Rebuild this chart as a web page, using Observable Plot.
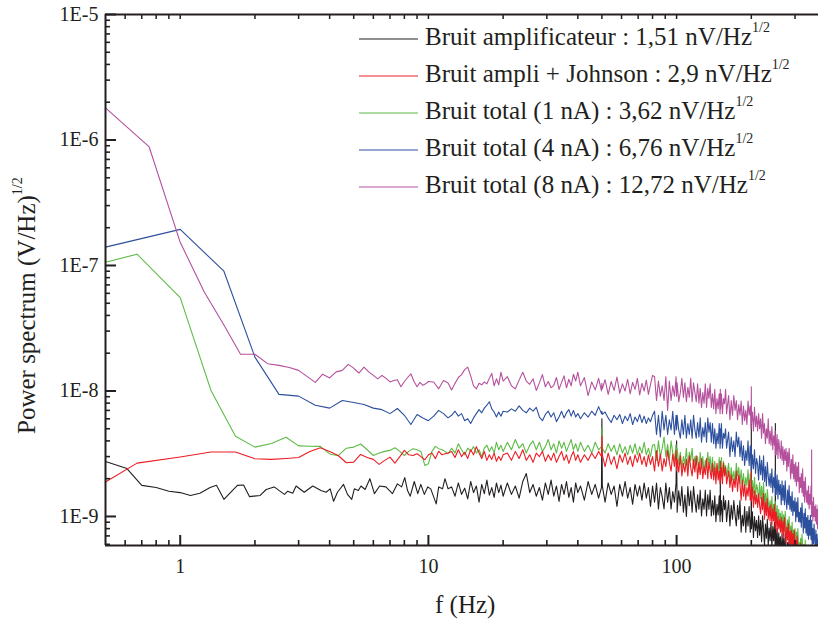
<!DOCTYPE html>
<html>
<head>
<meta charset="utf-8">
<script src="https://cdn.jsdelivr.net/npm/d3@7"></script>
<script src="https://cdn.jsdelivr.net/npm/@observablehq/plot@0.6"></script>
<style>
  html, body { margin: 0; padding: 0; background: #fff; }
  svg { display: block; }
</style>
</head>
<body>
<script>
// ---------- Series meta ----------
const seriesKeys   = ["black", "red", "green", "blue", "magenta"];
const seriesLabels = ["Bruit amplificateur : 1,51 nV/Hz",
                      "Bruit ampli + Johnson : 2,9 nV/Hz",
                      "Bruit total (1 nA) : 3,62 nV/Hz",
                      "Bruit total (4 nA) : 6,76 nV/Hz",
                      "Bruit total (8 nA) : 12,72 nV/Hz"];
const seriesColors = ["#231f20", "#ed1c24", "#5dbb46", "#2c4f9e", "#b5509c"];

// ---------- Low-frequency data (f in Hz, values in nV/Hz^1/2) ----------
const blackF = [0.5,0.61,0.7,0.8,0.9,1.0,1.1,1.2,1.32,1.4,1.5,1.7,1.8,1.9,2.1,2.22,2.39,2.63,2.71,2.84,2.93,3.16,3.42,3.69,3.87,4.02,4.15,4.3,4.55,4.72,4.91,5.03,5.22,5.35,5.56,5.81,6.06,6.36,6.74,7.16,7.5,7.8,8.03,8.24,8.45,8.77,9.06,9.32,9.63,9.93,10.22,10.75,11.0,11.4,11.66,12.0];
const blackV = [2.74,2.41,1.77,1.70,1.59,1.55,1.47,1.53,1.70,1.77,1.37,1.77,1.78,1.44,1.47,1.64,1.72,1.50,1.59,1.53,1.75,1.56,1.75,1.61,1.56,1.66,1.32,1.56,1.80,1.50,1.37,1.66,1.61,1.75,1.64,2.00,1.52,1.75,1.72,1.52,1.82,1.72,2.04,1.61,1.45,1.90,1.52,1.80,1.50,1.72,1.66,1.26,1.72,1.66,2.00,1.66];

const redF = [0.5,0.67,1.0,1.33,1.67,2.0,2.33,2.67,3.0,3.33,3.67,4.0,4.33,4.67,5.0,5.33,5.67,6.0,6.33,6.67,7.0,7.33,7.67,8.0,8.33,8.67,9.0,9.33,9.67,10.0,10.33,10.67,11.0,11.33,11.67,12.0];
const redV = [1.88,2.66,2.98,3.26,3.26,2.88,2.85,2.9,2.95,3.3,3.53,3.3,3.06,2.68,2.71,3.12,2.95,2.85,2.6,2.8,2.97,2.66,3.0,3.36,3.1,3.06,3.16,3.0,2.83,3.1,3.2,2.89,3.31,3.1,3.16,3.2];

const greenF = [0.5,0.67,1.0,1.33,1.67,2.0,2.33,2.67,3.0,3.33,3.67,4.0,4.33,4.67,5.0,5.33,5.67,6.0,6.33,6.67,7.0,7.33,7.67,8.0,8.33,8.67,9.0,9.33,9.67,10.0,10.33,10.67,11.0,11.33,11.67,12.0];
const greenV = [106,123,55.5,10.1,4.35,3.57,3.82,4.28,3.65,3.63,3.62,3.15,3.05,3.5,3.57,3.78,3.4,3.06,3.2,3.3,3.36,3.53,3.3,3.06,3.3,3.47,3.4,3.3,2.55,2.63,3.3,3.62,3.47,3.42,3.3,3.16];

const blueF = [0.5,1.0,1.5,2.0,2.5,3.0,3.5,4.0,4.5,5.0,5.5,6.0,6.5,7.0,7.5,8.0,8.5,9.0,9.5,10.0,10.5,11.0,11.5,12.0];
const blueV = [140,194,90,18.6,9.4,9.1,7.7,7.3,8.4,8.1,7.8,7.3,7.1,6.6,7.25,6.4,5.4,6.5,6.1,5.8,6.3,7.0,6.6,6.1];

const magentaF = [0.5,0.75,1.0,1.25,1.5,1.75,2.0,2.25,2.5,2.75,3.0,3.25,3.5,3.75,4.0,4.25,4.5,4.75,5.0,5.25,5.5,5.75,6.0,6.25,6.5,6.75,7.0,7.25,7.5,7.75,8.0,8.25,8.5,8.75,9.0,9.25,9.5,9.75,10.0,10.5,11.0,11.5,12.0];
const magentaV = [1800,880,153,61.5,33.5,19.6,19.6,16.5,16.0,15.4,14.6,13.0,11.7,13.6,12.7,14.2,14.6,16.3,15.2,13.9,15.5,14.2,13.3,12.5,13.3,12.6,11.8,12.1,12.3,10.8,11.9,12.8,13.7,11.9,10.8,11.7,11.1,11.4,11.9,11.8,10.4,12.1,11.6];

// ---------- Mid/high-frequency data: shared frequency grids (Hz) ----------
const fMid = [12.4,12.8,13.2,13.6,14,14.4,14.8,15.2,15.6,16,16.4,16.8,17.2,17.6,18,18.4,18.8,19.2,19.6,20,
  20.8,21.6,22.4,23.2,24,24.8,25.6,26.4,27.2,28,28.8,29.6,30.4,31.2,32,32.8,33.6,34.4,35.2,36,36.8,37.6,38.4,39.2,40,
  41,42.5,44,45.5,47,48.5,49.8,50,50.2,51.5,53,54.5,56,57.5,59,60.5,62,63.5,65,66.5,68,69.5,71,72.5,74,75.5,77,78.5,80];
const fD = [81.5,83,84.5,86,87.5,89,90.5,92,93.5,95,96.5,98,99.5,100,
  100.5,102,103.5,105,106.5,108,109.5,111,112.5,114,115.5,117,118.5,120,
  121.5,123,124.5,126,127.5,129,130.5,132,133.5,135,136.5,138,
  139.5,141,142.5,144,145.5,147,148.5,149.7,150,150.3,151.5,153,154.5,156,157.5,159];
const fE = [162,164,166,168,170,172,174,176,178,180,182,184,186,188,190,192,194,196,198,199.7,200,200.3,
  202,204,206,208,210,212,214,216,218,220,222,224,226,228,230,232,234,236,238,240,242,244,246,248,249.7,250,250.3,
  252,254,256,258,260,262,264,266,268,270,272,274,276,278,280,282,284,286,288,290,292,294,296,298,
  300,302,304,306,308,310,312,314,316,318,320,322,324,326,328,330,332,334,336,338,340,342,344,346,348,349.7,350,350.3,
  352,354,356,358,360,362,364,366,368,370,372,374];

// ---------- Values on those grids (nV/Hz^1/2) ----------
const blackMid = [1.72,1.45,1.85,1.5,1.68,1.38,1.9,1.55,1.75,1.3,1.8,1.52,1.95,1.48,1.7,1.42,1.85,1.55,1.78,1.45,
  1.85,1.5,1.75,1.4,1.9,2.2,1.55,1.8,1.45,1.7,1.35,1.85,1.5,1.95,1.45,1.75,1.32,1.8,1.5,1.9,1.42,1.7,1.3,1.85,1.55,
  1.75,1.35,1.9,1.5,1.8,1.4,1.7,6.0,1.75,1.3,1.85,1.5,1.75,1.2,1.8,1.45,1.9,1.4,1.7,1.25,1.8,1.45,1.75,1.35,1.85,1.4,1.7,1.2,1.75];
const blackD = [1.3,1.85,1.15,1.7,1.43,1.15,1.85,1.3,1.7,1.15,1.58,1.3,1.85,4.0,
  1.08,1.6,1.22,1.73,1.08,1.48,1.0,1.73,1.22,1.6,1.08,1.73,1.33,1.08,
  1.49,1.14,1.62,1.01,1.38,1.14,1.62,1.01,1.49,1.14,1.62,1.01,
  1.34,1.03,1.46,0.91,1.25,1.03,1.46,0.91,2.1,1.03,1.34,0.91,1.46,1.13,1.34,0.91];
const blackE = [1.34,0.84,1.23,0.95,1.34,1.03,0.84,1.23,0.95,1.34,
  0.75,1.02,0.84,1.2,0.75,1.1,0.84,1.2,0.75, 1.04,6.0,0.8,
  1.09,0.68,1.0,0.77,0.93,0.68, 1.01,0.71,0.93,0.63,1.01,0.78, 0.59,0.87,0.67,0.95,0.59,0.81, 0.64,0.9,0.56,0.83,0.64,0.9,
  0.53,5.5,0.78,
  0.57,0.8,0.5,0.74,0.57,0.69, 0.46,0.73,0.52,0.67,0.46,0.73, 0.52,0.42,0.62,0.47,0.67,0.42, 0.56,0.43,0.61,0.38,0.52,0.43];

const redMid = [3.3,2.95,3.4,3.0,3.25,2.9,3.4,3.1,3.6,3.2,2.9,3.3,2.8,3.1,2.85,3.2,2.75,3.0,2.8,3.1,
  3.2,2.8,3.3,2.9,3.4,2.8,3.1,2.7,3.2,3.0,3.3,2.75,3.1,2.8,3.2,2.7,3.0,3.3,2.8,3.1,2.65,3.0,3.3,2.8,3.1,
  2.7,3.1,2.8,3.2,2.9,3.3,3.0,4.4,3.1,2.5,3.2,2.6,3.0,2.4,3.1,2.7,3.2,2.6,3.0,2.5,3.1,2.7,3.2,2.6,3.0,2.5,3.1,2.6,3.0];
const redD = [2.3,3.35,2.5,3.15,2.3,2.9,2.5,3.35,2.7,2.3,3.15,2.5,3.35,2.3,
  2.85,2.25,3.05,2.1,2.65,2.25,2.85,2.1,3.05,2.45,2.1,2.85,2.25,3.05,
  2.0,2.7,2.15,2.9,2.0,2.5,2.15,2.9,2.0,2.7,2.3,2.0,
  2.65,1.95,2.45,1.82,2.65,1.95,2.3,1.82,2.75,1.95,2.45,1.82,2.65,2.1,2.45,1.82];
const redE = [2.3,1.7,2.15,1.58,2.0,1.7,2.3,1.58,2.15,1.82,
  1.35,1.95,1.45,1.8,1.35,1.7,1.45,1.95,1.35, 1.68,2.45,1.33,
  1.7,1.18,1.6,1.26,1.48,1.18, 1.52,1.22,1.05,1.42,1.13,1.52, 0.95,1.29,1.02,1.38,0.95,1.2, 0.92,1.24,0.85,1.15,0.92,1.24,
  0.8,1.08,0.85,
  1.08,0.75,1.0,0.8,0.94,0.75, 0.98,0.73,0.92,0.68,0.98,0.79, 0.61,0.82,0.65,0.88,0.61,0.76, 0.58,0.78,0.54,0.73,0.58,0.78,
  0.48,0.65,0.52,0.7,0.56,0.48, 0.57,0.45,0.61,0.42,0.53,0.45, 0.55,0.38,0.52,0.41,0.55,0.38, 0.46,0.36,0.49,0.34,0.43,0.36,0.49,
  0.32,0.43,0.34,
  0.42,0.29,0.39,0.31,0.42,0.29, 0.36,0.28,0.38,0.27,0.33,0.28];

const greenMid = [3.5,3.2,3.8,3.4,3.1,3.5,3.3,3.6,3.2,3.4,3.0,3.5,3.7,3.3,3.6,3.2,3.9,3.4,3.7,3.3,
  3.9,3.4,4.1,3.5,3.8,3.2,3.7,4.0,3.4,3.9,3.3,3.6,4.1,3.4,3.8,3.2,4.0,3.5,3.9,3.3,3.7,4.1,3.4,3.8,3.3,
  3.9,3.3,3.7,3.2,3.9,3.4,3.6,5.1,3.5,3.2,3.8,3.3,3.7,3.1,3.8,3.2,3.6,3.1,3.7,3.2,3.8,3.1,3.6,3.2,3.9,3.1,3.5,3.0,3.7];
const greenD = [3.75,2.8,4.0,3.0,3.5,4.3,3.0,3.75,2.8,4.0,3.2,2.8,3.75,3.0,
  3.5,2.6,3.25,2.4,3.0,2.6,3.5,2.4,3.25,2.8,3.5,2.4,3.0,2.6,
  3.0,2.25,3.25,2.4,3.0,2.25,2.8,2.4,3.25,2.6,3.0,2.25,
  2.95,2.2,2.75,2.05,2.55,2.2,2.95,2.05,2.75,2.2,2.95,2.05,2.75,2.35,2.55,2.05];
const greenE = [2.65,1.83,2.45,1.95,2.3,1.83,2.65,2.1,2.45,1.83,
  2.35,1.75,2.2,1.62,2.05,1.75,2.35,1.62,2.2, 1.6,1.95,1.5,
  1.93,1.53,2.05,1.43,1.8,1.65, 1.29,1.86,1.38,1.74,1.29,1.86, 1.22,1.53,1.14,1.64,1.32,1.14, 1.34,1.07,1.44,1.0,1.25,1.07,
  1.32,0.91,1.23,
  0.91,1.22,0.85,1.14,0.91,1.06, 0.76,1.1,0.82,1.03,0.76,1.1, 0.81,0.7,0.94,0.75,1.0,0.7, 0.84,0.67,0.9,0.62,0.78,0.67,
  0.8,0.56,0.75,0.6,0.8,0.56, 0.62,0.53,0.67,0.5,0.72,0.58, 0.45,0.6,0.48,0.65,0.45,0.56, 0.44,0.59,0.41,0.55,0.44,0.59,0.41,
  0.52,0.41,0.55,
  0.36,0.48,0.38,0.52,0.41,0.36, 0.47,0.35,0.44,0.32,0.41,0.35];

const blueMid = [6.4,6.9,6.3,6.6,5.8,6.0,5.5,6.1,6.6,7.1,6.7,7.3,7.7,8.2,7.2,6.8,6.2,6.8,6.3,6.9,
  6.8,7.2,6.9,7.6,7.0,6.7,7.3,6.9,7.4,6.2,5.8,6.5,6.9,6.2,6.7,5.7,6.2,6.9,6.1,6.7,7.1,6.3,7.0,6.2,6.6,
  6.0,6.7,6.2,6.9,6.4,7.5,6.6,6.9,6.5,6.8,6.1,5.6,6.4,5.9,6.5,5.5,6.3,5.8,6.6,5.4,6.2,5.7,6.5,5.6,6.3,5.5,6.1,5.7,6.4];
const blueD = [6.9,4.5,6.4,4.3,6.9,4.9,6.4,4.5,5.9,4.9,6.9,4.5,6.4,4.9,
  6.4,4.9,4.2,5.9,4.5,6.4,4.2,5.5,4.5,5.9,4.2,6.4,4.9,4.2,
  5.6,4.3,6.1,3.9,5.1,4.3,5.6,3.9,6.1,4.7,5.6,3.9,
  5.5,3.8,5.0,3.5,4.6,3.8,5.5,3.5,5.0,3.8,5.5,3.5,4.6,4.2,5.0,3.5];
const blueE = [4.7,3.0,4.3,3.3,4.0,3.0,4.7,3.6,4.3,3.0,
  4.0,2.8,3.65,2.55,3.35,2.8,4.0,2.55,3.65, 2.5,3.6,2.3,
  3.1,2.4,3.4,2.2,2.9,2.6, 1.95,3.05,2.15,2.8,1.95,3.05, 1.9,2.5,1.75,2.7,2.1,1.75, 2.2,1.7,2.4,1.55,2.05,1.7,
  2.3,1.47,2.1,
  1.5,2.15,1.38,1.95,1.5,1.8, 1.24,1.92,1.35,1.77,1.24,1.92, 1.35,1.14,1.62,1.24,1.76,1.14, 1.45,1.1,1.57,1.02,1.33,1.1,
  1.41,0.91,1.3,0.99,1.41,0.91, 1.08,0.9,1.17,0.82,1.28,0.98, 0.74,1.06,0.81,1.15,0.74,0.98, 0.71,1.02,0.66,0.93,0.71,1.02,0.66,
  0.86,0.65,0.93,
  0.56,0.8,0.61,0.87,0.67,0.56, 0.78,0.55,0.72,0.5,0.66,0.55];

const magentaMid = [10.2,11.5,12.8,13.5,14.8,15.5,13.2,11.0,10.4,11.5,11.2,11.8,11.4,12.6,13.8,11.0,12.5,11.2,14.1,12.0,
  13.0,11.0,10.4,12.2,14.1,12.0,11.3,12.5,10.1,11.6,13.5,10.8,11.9,10.6,11.1,12.8,10.3,11.7,13.2,10.6,12.4,11.0,13.6,12.0,14.1,
  11.0,12.8,9.2,11.8,10.2,12.6,10.0,11.5,10.4,12.3,9.4,11.9,10.1,12.9,9.6,11.4,10.0,12.4,9.5,11.7,10.3,12.6,9.3,11.5,10.0,12.2,9.4,11.3,13.3];
const magentaD = [13.0,8.4,12.0,9.1,11.0,8.4,13.0,7.0,12.0,8.4,11.0,9.1,13.0,9.1,
  11.6,8.2,9.7,12.6,8.9,11.6,8.2,10.7,8.9,12.6,8.2,11.6,9.7,8.2,
  11.4,8.0,10.5,7.4,9.7,8.0,11.4,7.4,10.5,8.7,11.4,7.4,
  9.5,7.2,10.3,6.6,8.7,7.2,9.5,6.6,10.3,7.2,9.5,6.6,8.7,7.9,10.3,6.6];
const magentaE = [9.2,5.9,8.4,6.4,9.2,7.0,8.4,5.9,7.8,6.4,
  8.3,5.4,7.6,5.8,7.0,5.4,8.3,6.4,7.6, 5.0,10.8,5.5,
  6.8,4.8,7.4,5.2,6.3,4.8, 6.6,5.0,6.0,4.2,6.6,4.6, 5.5,3.8,5.0,4.2,6.0,3.8, 4.8,3.7,5.2,3.4,4.4,3.7,
  4.8,3.1,4.4,
  3.1,4.5,2.9,4.1,3.4,2.9, 4.0,2.8,3.6,2.6,3.4,2.8, 3.5,2.3,3.25,2.5,3.5,2.7, 2.0,2.85,2.2,3.1,2.0,2.6,
  1.9,2.7,1.75,2.5,1.9,2.7, 1.55,2.05,1.7,2.2,1.55,2.4, 1.45,1.9,1.3,2.05,1.55,1.3, 1.6,1.25,1.75,1.15,1.5,1.25,1.75,
  1.0,3.4,1.1,
  1.3,0.92,1.42,1.0,1.2,0.92, 1.24,0.87,1.14,0.8,1.24,0.87];

// ---------- Axis tick values ----------
const xMajor = [1, 10, 100];
const xMinor = [0.6,0.7,0.8,0.9,2,3,4,5,6,7,8,9,20,30,40,50,60,70,80,90,200,300];
const yMajor = [1e-9, 1e-8, 1e-7, 1e-6, 1e-5];
const yMinor = [6e-10,7e-10,8e-10,9e-10,
  2e-9,3e-9,4e-9,5e-9,6e-9,7e-9,8e-9,9e-9,
  2e-8,3e-8,4e-8,5e-8,6e-8,7e-8,8e-8,9e-8,
  2e-7,3e-7,4e-7,5e-7,6e-7,7e-7,8e-7,9e-7,
  2e-6,3e-6,4e-6,5e-6,6e-6,7e-6,8e-6,9e-6];
const xDomain = [0.5, 373];
const yDomain = [5.87e-10, 1e-5];

// ---------- Build table ----------
const lowF = {black: blackF, red: redF, green: greenF, blue: blueF, magenta: magentaF};
const lowV = {black: blackV, red: redV, green: greenV, blue: blueV, magenta: magentaV};
const midV = {black: blackMid, red: redMid, green: greenMid, blue: blueMid, magenta: magentaMid};
const dV   = {black: blackD, red: redD, green: greenD, blue: blueD, magenta: magentaD};
const eV   = {black: blackE, red: redE, green: greenE, blue: blueE, magenta: magentaE};
function rowsFor(key) {
  const out = [];
  const push = (fs, vs) => fs.forEach((f, i) => { const v = vs[i]; if (v != null) out.push({series: key, f, v: v * 1e-9}); });
  push(lowF[key], lowV[key]);
  push(fMid, midV[key]);
  push(fD, dV[key]);
  push(fE, eV[key]);
  return out;
}
const drawOrder = ["black", "green", "red", "blue", "magenta"];
const colorOf = Object.fromEntries(seriesKeys.map((k, i) => [k, seriesColors[i]]));

const axisColor = "#231f20";
const font = "'Liberation Serif', 'Times New Roman', serif";
const chart = Plot.plot({
  width: 818, height: 624,
  marginLeft: 105, marginRight: 0, marginTop: 14, marginBottom: 79,
  style: {fontFamily: font, fontSize: "20px", background: "#fff", color: axisColor},
  x: {type: "log", domain: xDomain, label: null},
  y: {type: "log", domain: yDomain, label: null},
  marks: [
    ...drawOrder.map(k => Plot.line(rowsFor(k), {x: "f", y: "v", stroke: colorOf[k], strokeWidth: 1.1, clip: true})),
    Plot.axisY(yMinor, {anchor: "left", tickSize: -5, fill: "none", strokeWidth: 1.6, stroke: axisColor, label: null}),
    Plot.axisY(yMajor, {anchor: "left", tickSize: -11, fill: "none", strokeWidth: 2, stroke: axisColor, label: null}),
    Plot.axisY(yMajor, {anchor: "left", tickSize: 0, tickPadding: 7, fontSize: 20, fill: axisColor,
      tickFormat: d => "1E" + Math.round(Math.log10(d)), label: null}),
    Plot.axisX(xMinor, {anchor: "bottom", tickSize: -5, fill: "none", strokeWidth: 1.6, stroke: axisColor, label: null}),
    Plot.axisX(xMajor, {anchor: "bottom", tickSize: -10, fill: "none", strokeWidth: 2, stroke: axisColor, label: null}),
    Plot.axisX(xMinor.concat(xMajor), {anchor: "top", tickSize: -4, fill: "none", strokeWidth: 1.5, stroke: axisColor, label: null}),
    Plot.axisX(xMajor, {anchor: "bottom", tickSize: 0, tickPadding: 13, fontSize: 20, fill: axisColor,
      tickFormat: d => String(d), label: null}),
    Plot.ruleX([xDomain[0]], {stroke: axisColor, strokeWidth: 2}),
    Plot.ruleY([yDomain[0]], {stroke: axisColor, strokeWidth: 2}),
    Plot.ruleY([yDomain[1]], {stroke: axisColor, strokeWidth: 2})
  ]
});
document.body.appendChild(chart);

// ---------- Titles and legend ----------
const svg = d3.select(chart);

const yt = svg.append("text")
  .attr("transform", "translate(35,434) rotate(-90)")
  .attr("text-anchor", "start")
  .attr("font-family", font).attr("font-size", 25).attr("fill", axisColor);
yt.append("tspan").text("Power spectrum (V/Hz)");
yt.append("tspan").attr("font-size", 14).attr("dy", -13).text("1/2");

svg.append("text")
  .attr("x", 435).attr("y", 613)
  .attr("text-anchor", "start")
  .attr("font-family", font).attr("font-size", 25).attr("fill", axisColor)
  .text("f (Hz)");

const leg = svg.append("g").attr("font-family", font).attr("font-size", 25)
  .attr("fill", axisColor).attr("text-anchor", "start");
seriesKeys.forEach((k, i) => {
  const yb = 45 + i * 37;
  leg.append("line")
    .attr("x1", 359).attr("x2", 418).attr("y1", yb - 6).attr("y2", yb - 6)
    .attr("stroke", seriesColors[i]).attr("stroke-width", 1);
  const t = leg.append("text").attr("x", 425).attr("y", yb);
  t.append("tspan").text(seriesLabels[i]);
  t.append("tspan").attr("font-size", 14).attr("dy", -13).text("1/2");
});
</script>
</body>
</html>
